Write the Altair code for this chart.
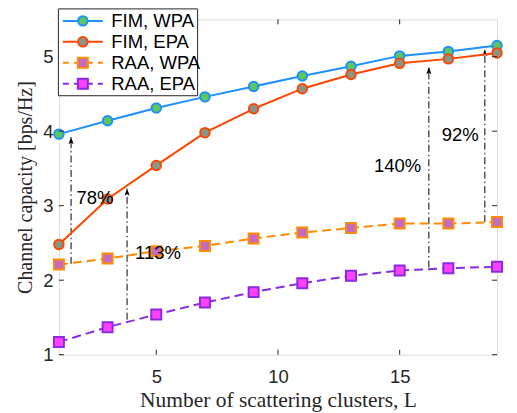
import altair as alt
import pandas as pd

# ---------------- data ----------------
L = [1, 3, 5, 7, 9, 11, 13, 15, 17, 19]
fim_wpa = [3.96, 4.14, 4.31, 4.46, 4.60, 4.74, 4.87, 5.01, 5.07, 5.15]
fim_epa = [2.48, 3.09, 3.54, 3.98, 4.30, 4.57, 4.76, 4.91, 4.97, 5.05]
raa_wpa = [2.21, 2.29, 2.39, 2.46, 2.56, 2.64, 2.70, 2.76, 2.76, 2.78]
raa_epa = [1.17, 1.37, 1.54, 1.70, 1.84, 1.96, 2.06, 2.13, 2.16, 2.18]

series_names = ["FIM, WPA", "FIM, EPA", "RAA, WPA", "RAA, EPA"]
series_vals = [fim_wpa, fim_epa, raa_wpa, raa_epa]

# annotation arrows (x, from, to) and percentage labels
arrow_x = [1.5, 3.8, 16.2, 18.5]
arrow_from = [2.22, 1.47, 2.17, 2.78]
arrow_to = [3.92, 3.23, 4.86, 5.10]
label_text = ["78%", "113%", "140%", "92%"]
label_x = [2.48, 5.07, 14.91, 17.49]
label_y = [3.10, 2.36, 3.53, 3.95]

x_ticks = [5, 10, 15]
y_ticks = [1, 2, 3, 4, 5]

# ---------------- style ----------------
line_colors = ["#1E90FF", "#FF4500", "#FF8C00", "#8A2BE2"]
fill_colors = ["#5DC65D", "#8A958A", "#C36AC3", "#FF40FF"]
shapes = ["circle", "circle", "square", "square"]
dashed = [False, False, True, True]
AX = "#262626"
W, H = 439, 336
SANS = "Liberation Sans"
SERIF = "Liberation Serif"
FS = 18.5

xscale = alt.Scale(domain=[1, 19], nice=False, zero=False)
yscale = alt.Scale(domain=[1, 5.5], nice=False, zero=False)
xaxis = alt.Axis(values=x_ticks, ticks=False, tickSize=0, domain=False, grid=False,
                 labelFont=SANS, labelFontSize=FS, labelColor=AX, labelPadding=13,
                 titleFont=SERIF, titleFontSize=21.5, titleFontWeight="normal",
                 titleColor=AX, titlePadding=3)
yaxis = alt.Axis(values=y_ticks, ticks=False, tickSize=0, domain=False, grid=False,
                 labelFont=SANS, labelFontSize=FS, labelColor=AX, labelPadding=6,
                 titleFont=SERIF, titleFontSize=20, titleFontWeight="normal",
                 titleColor=AX, titlePadding=7)
XT = "Number of scattering clusters, L"
YT = "Channel capacity [bps/Hz]"


def X():
    return alt.X("L:Q", scale=xscale, axis=xaxis, title=XT)


def Y():
    return alt.Y("cap:Q", scale=yscale, axis=yaxis, title=YT)


layers = []

# annotation arrows (under data)
arr = pd.DataFrame({"L": arrow_x, "cap": arrow_from, "cap2": arrow_to})
layers.append(
    alt.Chart(arr).mark_rule(color="black", strokeWidth=1, strokeDash=[7, 3, 1.5, 3])
    .encode(x=X(), y=Y(), y2=alt.Y2("cap2:Q"))
)
head = pd.DataFrame({"L": arrow_x, "cap": arrow_to})
layers.append(
    alt.Chart(head).mark_point(shape="M0,-1L0.65,0.8L0,0.35L-0.65,0.8Z", filled=True,
                               color="black", opacity=1, size=64, yOffset=4)
    .encode(x=X(), y=Y())
)

# data series
for name, vals, lc, fc, sh, ds in zip(series_names, series_vals, line_colors,
                                      fill_colors, shapes, dashed):
    d = pd.DataFrame({"L": L, "cap": vals})
    lkw = dict(color=lc, strokeWidth=2)
    if ds:
        lkw["strokeDash"] = [9, 5]
    layers.append(alt.Chart(d).mark_line(**lkw).encode(x=X(), y=Y()))
    layers.append(
        alt.Chart(d).mark_point(shape=sh, filled=True, fill=fc, stroke=lc,
                                strokeWidth=2, opacity=1, size=90 if sh == "circle" else 100)
        .encode(x=X(), y=Y())
    )

# percentage labels
lab = pd.DataFrame({"L": label_x, "cap": label_y, "t": label_text})
layers.append(
    alt.Chart(lab).mark_text(font=SANS, fontSize=FS, color="black",
                             align="center", baseline="middle")
    .encode(x=X(), y=Y(), text="t:N")
)

# inward ticks (MATLAB style) on all four sides
xt = pd.DataFrame({"L": x_ticks})
yt = pd.DataFrame({"cap": y_ticks})
layers.append(alt.Chart(xt).mark_rule(color=AX, strokeWidth=1)
              .encode(x=X(), y=alt.value(H), y2=alt.value(H - 5)))
layers.append(alt.Chart(xt).mark_rule(color=AX, strokeWidth=1)
              .encode(x=X(), y=alt.value(0), y2=alt.value(5)))
layers.append(alt.Chart(yt).mark_rule(color=AX, strokeWidth=1)
              .encode(y=Y(), x=alt.value(0), x2=alt.value(5)))
layers.append(alt.Chart(yt).mark_rule(color=AX, strokeWidth=1)
              .encode(y=Y(), x=alt.value(W - 5), x2=alt.value(W)))

# legend (manual, MATLAB style)
dummy = pd.DataFrame({"k": [0]})
layers.append(
    alt.Chart(dummy).mark_rect(fill="white", stroke=AX, strokeWidth=1)
    .encode(x=alt.value(-0.5), x2=alt.value(139), y=alt.value(-10.5), y2=alt.value(76.5))
)
leg_y = [1.5, 22.5, 43.5, 64.5]
for name, lc, fc, sh, ds, yy in zip(series_names, line_colors, fill_colors,
                                    shapes, dashed, leg_y):
    rkw = dict(color=lc, strokeWidth=2)
    if ds:
        rkw["strokeDash"] = [7, 5]
        rkw["strokeDashOffset"] = 1
    layers.append(alt.Chart(dummy).mark_rule(**rkw)
                  .encode(x=alt.value(4), x2=alt.value(44), y=alt.value(yy)))
    layers.append(
        alt.Chart(dummy).mark_point(shape=sh, filled=True, fill=fc, stroke=lc,
                                    strokeWidth=2, opacity=1,
                                    size=90 if sh == "circle" else 100)
        .encode(x=alt.value(24), y=alt.value(yy))
    )
    layers.append(
        alt.Chart(dummy).mark_text(text=name, font=SANS, fontSize=FS, color="black",
                                   align="left", baseline="middle")
        .encode(x=alt.value(52.5), y=alt.value(yy))
    )

chart = (
    alt.layer(*layers)
    .properties(width=W, height=H,
                autosize=alt.AutoSizeParams(type="none"),
                padding={"left": 51, "top": 11, "right": 12, "bottom": 58})
    .configure_view(stroke=AX, strokeWidth=1)
    .configure(background="white")
)

chart.save("out.html", embed_options={"renderer": "svg", "actions": False})
